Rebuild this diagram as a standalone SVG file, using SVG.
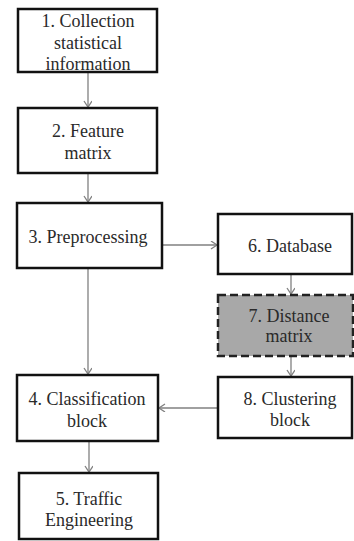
<svg xmlns="http://www.w3.org/2000/svg" width="354" height="541" viewBox="0 0 354 541">
<style>
.box{fill:#ffffff;stroke:#111111;stroke-width:2.5}
.dash{fill:#a8a8a8;stroke:#222222;stroke-width:2.5;stroke-dasharray:8 4}
.t{font-family:"Liberation Serif","Times New Roman",serif;font-size:18px;fill:#2a2a2a;text-anchor:middle}
.c{fill:none;stroke:#808080;stroke-width:1.3}
</style>
<defs>
<marker id="ah" markerWidth="10" markerHeight="10" refX="7" refY="4" orient="auto" markerUnits="userSpaceOnUse">
<path d="M1,0 L7,4 L1,8" fill="none" stroke="#808080" stroke-width="1.3"/>
</marker>
</defs>
<rect width="354" height="541" fill="#ffffff"/>
<g id="connectors">
<line class="c" x1="88" y1="73" x2="88" y2="107" marker-end="url(#ah)"/>
<line class="c" x1="88" y1="174" x2="88" y2="202" marker-end="url(#ah)"/>
<line class="c" x1="88" y1="269" x2="88" y2="374" marker-end="url(#ah)"/>
<line class="c" x1="163" y1="245" x2="217" y2="245" marker-end="url(#ah)"/>
<line class="c" x1="291" y1="275" x2="291" y2="294" marker-end="url(#ah)"/>
<line class="c" x1="291" y1="357" x2="291" y2="376" marker-end="url(#ah)"/>
<line class="c" x1="217" y1="408" x2="159" y2="408" marker-end="url(#ah)"/>
<line class="c" x1="89" y1="442" x2="89" y2="472" marker-end="url(#ah)"/>
</g>
<g id="n1">
<rect class="box" x="18" y="9" width="139" height="63"/>
<text class="t" x="88" y="27">1. Collection</text>
<text class="t" x="88" y="49">statistical</text>
<text class="t" x="88" y="70">information</text>
</g>
<g id="n2">
<rect class="box" x="18" y="108" width="139" height="65"/>
<text class="t" x="88" y="137">2. Feature</text>
<text class="t" x="88" y="159">matrix</text>
</g>
<g id="n3">
<rect class="box" x="17" y="203" width="145" height="65"/>
<text class="t" x="88" y="243">3. Preprocessing</text>
</g>
<g id="n6">
<rect class="box" x="218" y="214" width="134" height="60"/>
<text class="t" x="290" y="252">6. Database</text>
</g>
<g id="n7">
<rect class="dash" x="218" y="295" width="135" height="61"/>
<text class="t" x="289" y="322">7. Distance</text>
<text class="t" x="289" y="342">matrix</text>
</g>
<g id="n8">
<rect class="box" x="218" y="377" width="134" height="61"/>
<text class="t" x="290" y="405">8. Clustering</text>
<text class="t" x="290" y="426">block</text>
</g>
<g id="n4">
<rect class="box" x="17" y="375" width="141" height="66"/>
<text class="t" x="87" y="405">4. Classification</text>
<text class="t" x="87" y="427">block</text>
</g>
<g id="n5">
<rect class="box" x="19" y="473" width="139" height="66"/>
<text class="t" x="89" y="505">5. Traffic</text>
<text class="t" x="89" y="526">Engineering</text>
</g>
</svg>
